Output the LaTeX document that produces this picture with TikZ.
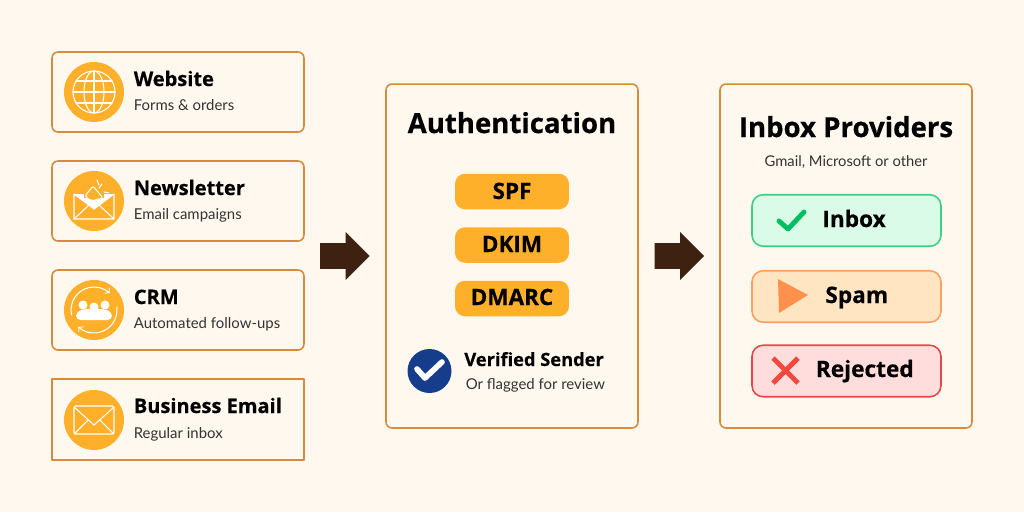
\documentclass[tikz,border=0pt]{standalone}
\usepackage{fontspec}
\setmainfont{Lato}
\newfontfamily\headfont[BoldFeatures={FakeBold=0.5}]{Open Sans}
\usepackage{pgf,tikz}
\usetikzlibrary{arrows,shapes.arrows}
\definecolor{bgcol}{HTML}{FFF8EE}
\definecolor{cardcol}{HTML}{D58A3C}
\definecolor{ambercol}{HTML}{FFB02B}
\definecolor{arrowcol}{HTML}{3E2110}
\definecolor{navycol}{HTML}{163C8C}
\definecolor{subcol}{HTML}{333333}
\definecolor{okfill}{HTML}{DAFBE8}
\definecolor{okline}{HTML}{3DCF85}
\definecolor{okmark}{HTML}{00BF63}
\definecolor{spamfill}{HTML}{FFE5C2}
\definecolor{spamline}{HTML}{FFA05E}
\definecolor{spammark}{HTML}{FF914D}
\definecolor{rejfill}{HTML}{FFDDDD}
\definecolor{rejline}{HTML}{E9464A}
\definecolor{rejmark}{HTML}{F04A3F}
\tikzset{
  card/.style={draw=cardcol,line width=0.9pt,rounded corners=3.4pt,minimum width=5.04cm,minimum height=1.6cm,inner sep=0pt},
  panel/.style={draw=cardcol,line width=0.9pt,rounded corners=3.4pt,minimum width=5.04cm,minimum height=6.88cm,inner sep=0pt},
  badge/.style={circle,fill=ambercol,minimum size=1.2cm,inner sep=0pt},
  pill/.style={fill=ambercol,rounded corners=5.7pt,minimum width=2.28cm,minimum height=0.71cm,inner sep=0pt},
  status/.style={line width=0.9pt,rounded corners=6.3pt,minimum width=3.78cm,minimum height=1.03cm,inner sep=0pt},
  blockarrow/.style={single arrow,fill=arrowcol,inner sep=3.55pt,minimum height=0.99cm,minimum width=0.96cm,single arrow head extend=3.27pt},
  cardtitle/.style={anchor=base west,inner sep=0pt,font=\headfont\bfseries\fontsize{11.4pt}{13pt}\selectfont},
  cardsub/.style={anchor=base west,inner sep=0pt,text=subcol,font=\fontsize{8.5pt}{10pt}\selectfont},
  paneltitle/.style={anchor=base,inner sep=0pt,font=\headfont\bfseries\fontsize{15.7pt}{18pt}\selectfont},
  pilltxt/.style={anchor=base,inner sep=0pt,font=\headfont\bfseries\fontsize{12.8pt}{14pt}\selectfont},
  statustxt/.style={anchor=base west,inner sep=0pt,font=\headfont\bfseries\fontsize{12.9pt}{15pt}\selectfont},
  icon/.style={draw=white,line width=0.6pt,line join=round,line cap=round}
}
\begin{document}
\begin{tikzpicture}[line cap=round,line join=round,>=to,x=0.02cm,y=-0.02cm]
\fill[bgcol] (0,0) rectangle (1024,512);
% source cards
\node[card] (website) at (178,92) {};
\node[card] (newsletter) at (178,201) {};
\node[card] (crm) at (178,310) {};
\node[card,rounded corners=0pt,minimum height=1.62cm] (business) at (178,419.5) {};
\node[badge] (websitebadge) at (94,92) {};
\node[badge] (newsletterbadge) at (94,201) {};
\node[badge] (crmbadge) at (94,310) {};
\node[badge] (businessbadge) at (94,420) {};
\node[cardtitle] (websitetitle) at (133.5,86) {Website};
\node[cardsub] (websitesub) at (133.5,110) {Forms \& orders};
\node[cardtitle] (newslettertitle) at (133.5,195) {Newsletter};
\node[cardsub] (newslettersub) at (133.5,219) {Email campaigns};
\node[cardtitle] (crmtitle) at (133.5,304) {CRM};
\node[cardsub] (crmsub) at (133.5,328) {Automated follow-ups};
\node[cardtitle] (businesstitle) at (133.5,413) {Business Email};
\node[cardsub] (businesssub) at (133.5,438) {Regular inbox};
% globe
\begin{scope}[shift={(94,92)}]
\draw[icon] (0,0) circle (21);
\draw[icon] (0,0) ellipse (10 and 21);
\draw[icon] (0,-21) -- (0,21);
\draw[icon] (-21,0) -- (21,0);
\draw[icon] (-18,-11) -- (18,-11);
\draw[icon] (-18,11) -- (18,11);
\end{scope}
% envelope with megaphone
\begin{scope}[shift={(94,201)}]
\fill[white] (-20,-7) -- (20,-7) -- (0,8) -- cycle;
\draw[icon] (-20,-7) -- (-20,18) -- (20,18) -- (20,-7) -- (0,8) -- cycle;
\draw[icon] (-20,18) -- (-5,4);
\draw[icon] (20,18) -- (5,4);
\fill[ambercol] (-10,-7) rectangle (10,-3);
\draw[icon,fill=ambercol,rounded corners=1.2pt] (-9,-5) -- (-1,-15) -- (9,-3) -- (-3,0) -- cycle;
\draw[icon] (-3,0) -- (0,3) -- (4,-1);
\draw[icon] (3,-21) -- (5,-16);
\draw[icon] (8,-17) -- (5,-13);
\draw[icon] (10,-9) -- (15,-8);
\end{scope}
% people and cycle
\begin{scope}[shift={(94,310)}]
\draw[icon,->] (168:23) arc[start angle=168,end angle=313,radius=23];
\draw[icon,->] (-8:23) arc[start angle=-8,end angle=133,radius=23];
\fill[white] (-11,-5) circle (4.5);
\fill[white] (11,-5) circle (4.5);
\fill[white] (0,-3) circle (4.5);
\fill[white,rounded corners=2.5pt] (-18,10) -- (-18,2) -- (-10,-1) -- (10,-1) -- (18,2) -- (18,10) -- cycle;
\end{scope}
% plain envelope
\begin{scope}[shift={(94,420)}]
\draw[icon,rounded corners=1pt] (-20,-14) rectangle (20,14);
\draw[icon] (-20,-13) -- (0,5) -- (20,-13);
\draw[icon] (-20,14) -- (-6,0);
\draw[icon] (20,14) -- (6,0);
\end{scope}
% arrows
\node[blockarrow] (arrowone) at (338.5,256) {};
\node[blockarrow] (arrowtwo) at (673,256) {};
% authentication
\node[panel] (authbox) at (512,256) {};
\node[paneltitle] (authtitle) at (512,133) {Authentication};
\node[pill] (spf) at (512,191.5) {};
\node[pill] (dkim) at (512,245) {};
\node[pill] (dmarc) at (512,298.5) {};
\node[pilltxt] (spftxt) at (512,199) {SPF};
\node[pilltxt] (dkimtxt) at (512,252) {DKIM};
\node[pilltxt] (dmarctxt) at (512,305) {DMARC};
\node[circle,fill=navycol,minimum size=0.88cm,inner sep=0pt] (verified) at (429.5,371) {};
\draw[white,line width=3.2pt] (417,369) -- (425,378) -- (442,362);
\node[anchor=base west,inner sep=0pt,font=\headfont\bfseries\fontsize{10.4pt}{12pt}\selectfont] (verifiedtitle) at (464,366) {Verified Sender};
\node[cardsub] (verifiedsub) at (465.5,389) {Or flagged for review};
% providers
\node[panel] (inboxbox) at (846,256) {};
\node[paneltitle] (inboxtitle) at (846,137) {Inbox Providers};
\node[anchor=base,inner sep=0pt,text=subcol,font=\fontsize{8.4pt}{10pt}\selectfont] (inboxsub) at (846,166) {Gmail, Microsoft or other};
\node[status,draw=okline,fill=okfill] (inbox) at (846.5,220.5) {};
\node[status,draw=spamline,fill=spamfill] (spam) at (846.5,296.5) {};
\node[status,draw=rejline,fill=rejfill] (rejected) at (846.5,371) {};
\draw[okmark,line width=2.8pt] (779,221) -- (788,229) -- (804,212);
\fill[spammark] (778,279) -- (808,295) -- (779,313) -- cycle;
\draw[rejmark,line width=2.8pt,line cap=butt] (773,358) -- (798,383);
\draw[rejmark,line width=2.8pt,line cap=butt] (798,358) -- (773,383);
\node[statustxt] (inboxtxt) at (822,227) {Inbox};
\node[statustxt] (spamtxt) at (825,303) {Spam};
\node[statustxt] (rejectedtxt) at (815.5,377) {Rejected};
\end{tikzpicture}
\end{document}
